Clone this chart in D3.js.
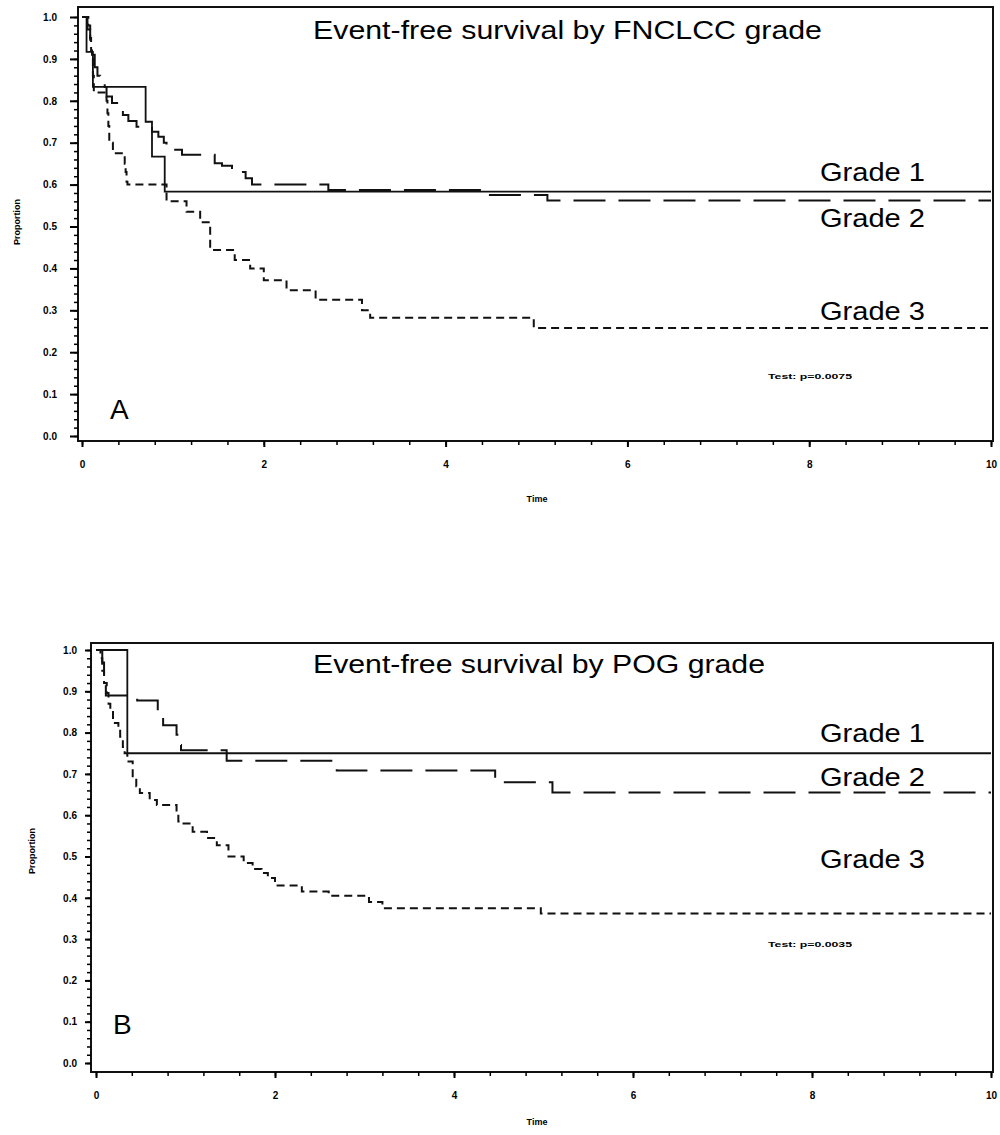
<!DOCTYPE html>
<html>
<head>
<meta charset="utf-8">
<script src="https://cdn.jsdelivr.net/npm/d3@7"></script>
<style>
  body { margin: 0; background: #fff; }
  svg { display: block; font-family: "Liberation Sans", Arial, sans-serif; }
  .tick text { font-family: "Liberation Sans Narrow", "Liberation Sans", Arial, sans-serif; font-weight: bold; font-size: 10px; }
</style>
</head>
<body>
<div id="chart"></div>
<script>
// Curvas Kaplan-Meier: [tiempo, proporcion]
// Panel A - FNCLCC
const fnclccG1 = [[0, 1], [0.05, 0.917], [0.12, 0.833], [0.70, 0.75], [0.77, 0.667], [0.91, 0.583]]
const fnclccG2 = [[0, 1], [0.06, 0.97], [0.09, 0.94], [0.11, 0.91], [0.14, 0.88], [0.17, 0.86], [0.2, 0.845],
  [0.25, 0.833], [0.27, 0.81], [0.33, 0.795], [0.45, 0.766], [0.51, 0.752], [0.6, 0.738], [0.77, 0.726],
  [0.84, 0.714], [0.9, 0.70], [0.93, 0.683], [1.1, 0.671], [1.46, 0.651], [1.54, 0.645], [1.65, 0.63],
  [1.8, 0.615], [1.87, 0.60], [2.71, 0.587], [4.46, 0.575], [5.12, 0.562]]
const fnclccG3 = [[0, 1], [0.07, 0.98], [0.09, 0.95], [0.1, 0.92], [0.11, 0.9], [0.12, 0.86], [0.13, 0.82],
  [0.27, 0.80], [0.28, 0.77], [0.29, 0.74], [0.30, 0.70], [0.34, 0.675], [0.47, 0.65], [0.48, 0.63],
  [0.49, 0.607], [0.5, 0.6], [0.93, 0.56], [1.15, 0.535], [1.3, 0.51], [1.41, 0.444], [1.68, 0.42],
  [1.85, 0.40], [2.0, 0.372], [2.25, 0.348], [2.57, 0.325], [3.08, 0.30], [3.17, 0.282], [4.97, 0.258]]
// Panel B - POG
const pogG1 = [[0, 1], [0.35, 0.75]]
const pogG2 = [[0, 1], [0.07, 0.97], [0.09, 0.93], [0.11, 0.89], [0.46, 0.878], [0.69, 0.84], [0.75, 0.818],
  [0.9, 0.795], [0.92, 0.77], [0.95, 0.757], [1.46, 0.732], [2.69, 0.708], [4.46, 0.68], [5.1, 0.655]]
const pogG3 = [[0, 1], [0.05, 0.98], [0.07, 0.95], [0.09, 0.92], [0.12, 0.896], [0.14, 0.87], [0.16, 0.85],
  [0.19, 0.823], [0.25, 0.81], [0.27, 0.79], [0.3, 0.765], [0.32, 0.75], [0.35, 0.73], [0.41, 0.69],
  [0.45, 0.67], [0.49, 0.654], [0.6, 0.637], [0.68, 0.625], [0.9, 0.605], [0.92, 0.585], [0.94, 0.58],
  [1.08, 0.56], [1.24, 0.545], [1.35, 0.527], [1.48, 0.5], [1.65, 0.484], [1.75, 0.47], [1.85, 0.46],
  [1.92, 0.448], [2.0, 0.43], [2.3, 0.415], [2.6, 0.405], [3.05, 0.39], [3.2, 0.375], [4.97, 0.362]]

const grados = ["Grade 1", "Grade 2", "Grade 3"]
const xTicks = [0, 2, 4, 6, 8, 10]
const yTicks = d3.range(0, 11).map(d => d / 10)
const tMax = 10

const estilos = [null, "32,13", "8,5"]

const svg = d3.select("#chart")
  .append("svg")
  .attr("width", 1000)
  .attr("height", 1135)

const paneles = [
  {
    curvas: [fnclccG1, fnclccG2, fnclccG3],
    titulo: "Event-free survival by FNCLCC grade", tituloX: 313, tituloY: 39, tituloW: 509,
    letra: "A", letraX: 110, letraY: 419,
    prueba: "Test: p=0.0075", pruebaX: 768, pruebaY: 379,
    marco: { x0: 78, y0: 7, x1: 993, y1: 441 },
    xr: [82, 991], yr: [436, 17],
    padY: 13, tickY: 8,
    etiqY: [181, 227, 320],
    propX: 17, propY: 222, timeY: 502
  },
  {
    curvas: [pogG1, pogG2, pogG3],
    titulo: "Event-free survival by POG grade", tituloX: 313, tituloY: 673, tituloW: 452,
    letra: "B", letraX: 113, letraY: 1034,
    prueba: "Test: p=0.0035", pruebaX: 768, pruebaY: 947,
    marco: { x0: 91, y0: 643, x1: 993, y1: 1072 },
    xr: [96, 991], yr: [1063, 650],
    padY: 8, tickY: 6,
    etiqY: [742, 786, 868],
    propX: 32, propY: 851, timeY: 1125
  }
]

paneles.forEach(p => dibujaPanel(p))

function dibujaPanel(p) {
  const x = d3.scaleLinear().domain([0, tMax]).range(p.xr)
  const y = d3.scaleLinear().domain([0, 1]).range(p.yr)
  const g = svg.append("g")

  // marco
  g.append("rect")
    .attr("x", p.marco.x0).attr("y", p.marco.y0)
    .attr("width", p.marco.x1 - p.marco.x0)
    .attr("height", p.marco.y1 - p.marco.y0)
    .attr("fill", "none").attr("stroke", "#111").attr("stroke-width", 2)

  // eje Y menor y mayor
  g.append("g")
    .attr("transform", "translate(" + p.marco.x0 + ",0)")
    .call(d3.axisLeft(y).tickValues(d3.range(0, 51).map(d => d / 50)).tickSize(4).tickFormat(""))
    .call(a => a.select(".domain").remove())
    .selectAll("line").attr("stroke-width", 1.5)
  g.append("g")
    .attr("transform", "translate(" + p.marco.x0 + ",0)")
    .call(d3.axisLeft(y).tickValues(yTicks).tickSize(p.tickY).tickPadding(p.padY).tickFormat(d3.format(".1f")))
    .call(a => a.select(".domain").remove())
    .call(a => a.selectAll("line").attr("stroke-width", 2))

  // eje X
  g.append("g")
    .attr("transform", "translate(0," + p.marco.y1 + ")")
    .call(d3.axisBottom(x).tickValues(d3.range(0, 26).map(d => d * 0.4)).tickSize(4).tickFormat(""))
    .call(a => a.select(".domain").remove())
    .selectAll("line").attr("stroke-width", 1.5)
  g.append("g")
    .attr("transform", "translate(0," + p.marco.y1 + ")")
    .call(d3.axisBottom(x).tickValues(xTicks).tickSize(6).tickPadding(14).tickFormat(d3.format("d")))
    .call(a => a.select(".domain").remove())
    .call(a => a.selectAll("line").attr("stroke-width", 2))

  // curvas escalonadas
  const linea = d3.line()
    .x(d => x(d[0]))
    .y(d => y(d[1]))
    .curve(d3.curveStepAfter)

  p.curvas.forEach((c, i) => {
    const datos = c.concat([[tMax, c[c.length - 1][1]]])
    g.append("path")
      .datum(datos)
      .attr("d", linea)
      .attr("fill", "none")
      .attr("stroke", "#111")
      .attr("stroke-width", i == 0 ? 1.8 : 2)
      .attr("stroke-dasharray", estilos[i])
  })

  // etiquetas de grado
  grados.forEach((t, i) => {
    g.append("text")
      .attr("x", 820).attr("y", p.etiqY[i])
      .attr("textLength", 105).attr("lengthAdjust", "spacingAndGlyphs")
      .style("font-size", "26px")
      .text(t)
  })

  g.append("text")
    .attr("x", p.tituloX).attr("y", p.tituloY)
    .attr("textLength", p.tituloW).attr("lengthAdjust", "spacingAndGlyphs")
    .style("font-size", "26px")
    .text(p.titulo)

  g.append("text")
    .attr("x", p.letraX).attr("y", p.letraY)
    .style("font-size", "28px")
    .text(p.letra)

  g.append("text")
    .attr("x", p.pruebaX).attr("y", p.pruebaY)
    .attr("textLength", 84).attr("lengthAdjust", "spacingAndGlyphs")
    .style("font-size", "8px").style("font-weight", "bold")
    .text(p.prueba)

  g.append("text")
    .attr("transform", "translate(" + p.propX + "," + p.propY + ") rotate(-90)")
    .attr("text-anchor", "middle").attr("dy", "0.35em")
    .style("font-size", "9px").style("font-weight", "bold")
    .text("Proportion")

  g.append("text")
    .attr("x", 537).attr("y", p.timeY)
    .attr("text-anchor", "middle")
    .style("font-size", "9px").style("font-weight", "bold")
    .text("Time")
}
</script>
</body>
</html>
